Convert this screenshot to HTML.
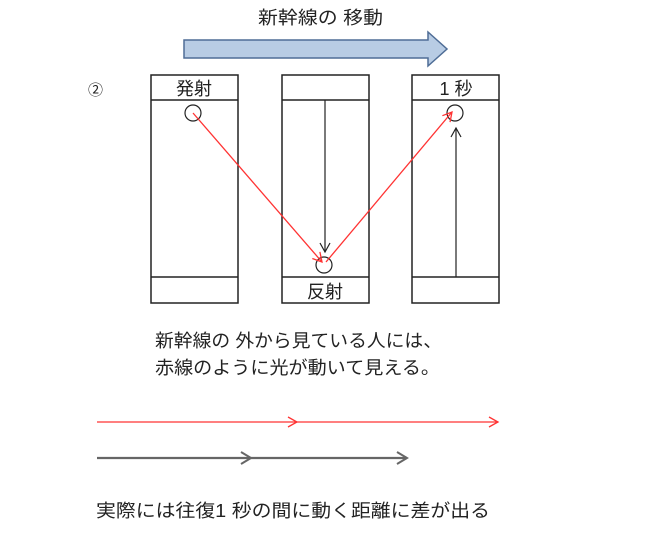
<!DOCTYPE html>
<html><head><meta charset="utf-8"><style>
html,body{margin:0;padding:0;background:#fff;}
svg text{font-family:"Liberation Sans","Noto Sans CJK JP",sans-serif;fill:#222;}
</style></head><body>
<svg width="662" height="539" viewBox="0 0 662 539" xmlns="http://www.w3.org/2000/svg">
<defs>
<marker id="rh" markerWidth="12" markerHeight="12" refX="10" refY="6" orient="auto" markerUnits="userSpaceOnUse"><path d="M1,1 L10,6 L1,11" fill="none" stroke="#f33" stroke-width="1.3"/></marker>
<marker id="kh" markerWidth="12" markerHeight="12" refX="10" refY="6" orient="auto" markerUnits="userSpaceOnUse"><path d="M1,1 L10,6 L1,11" fill="none" stroke="#222" stroke-width="1.2"/></marker>
<marker id="gh" markerWidth="14" markerHeight="14" refX="11" refY="7" orient="auto" markerUnits="userSpaceOnUse"><path d="M1,1 L11,7 L1,13" fill="none" stroke="#666" stroke-width="2"/></marker>
</defs>
<text x="258" y="24" font-size="18" textLength="125" lengthAdjust="spacingAndGlyphs">新幹線の 移動</text>
<path d="M184,40 L428,40 L428,32 L447,49 L428,66 L428,58 L184,58 Z" fill="#b8cce4" stroke="#4f6d96" stroke-width="1.5"/>
<text x="88" y="95" font-size="15">②</text>
<g fill="none" stroke="#222" stroke-width="1.5">
<rect x="151" y="75" width="87" height="228"/><line x1="151" y1="100" x2="238" y2="100"/><line x1="151" y1="277" x2="238" y2="277"/>
<rect x="282" y="75" width="87" height="228"/><line x1="282" y1="100" x2="369" y2="100"/><line x1="282" y1="277" x2="369" y2="277"/>
<rect x="412" y="75" width="87" height="228"/><line x1="412" y1="100" x2="499" y2="100"/><line x1="412" y1="277" x2="499" y2="277"/>
<circle cx="193" cy="113" r="8" stroke-width="1.2"/>
<circle cx="324" cy="265" r="8" stroke-width="1.2"/>
<circle cx="455" cy="113" r="8" stroke-width="1.2"/>
</g>
<line x1="325" y1="100" x2="325" y2="252" stroke="#222" stroke-width="1.2" marker-end="url(#kh)"/>
<line x1="456" y1="277" x2="456" y2="128" stroke="#222" stroke-width="1.2" marker-end="url(#kh)"/>
<line x1="193" y1="113" x2="322" y2="262" stroke="#f33" stroke-width="1.3" marker-end="url(#rh)"/>
<line x1="326" y1="262" x2="452" y2="112" stroke="#f33" stroke-width="1.3" marker-end="url(#rh)"/>
<text x="194" y="95" font-size="18" text-anchor="middle">発射</text>
<text x="325" y="298" font-size="18" text-anchor="middle">反射</text>
<text x="456" y="95" font-size="18" text-anchor="middle">1 秒</text>
<text x="155" y="347" font-size="18" textLength="287" lengthAdjust="spacingAndGlyphs">新幹線の 外から見ている人には、</text>
<text x="155" y="374" font-size="18" textLength="285" lengthAdjust="spacingAndGlyphs">赤線のように光が動いて見える。</text>
<line x1="97" y1="422" x2="297" y2="422" stroke="#f33" stroke-width="1.3" marker-end="url(#rh)"/>
<line x1="297" y1="422" x2="498" y2="422" stroke="#f33" stroke-width="1.3" marker-end="url(#rh)"/>
<line x1="97" y1="458" x2="251" y2="458" stroke="#666" stroke-width="2.2" marker-end="url(#gh)"/>
<line x1="251" y1="458" x2="407" y2="458" stroke="#666" stroke-width="2.2" marker-end="url(#gh)"/>
<text x="96" y="517" font-size="18" textLength="394" lengthAdjust="spacingAndGlyphs">実際には往復1 秒の間に動く距離に差が出る</text>
</svg>
</body></html>
